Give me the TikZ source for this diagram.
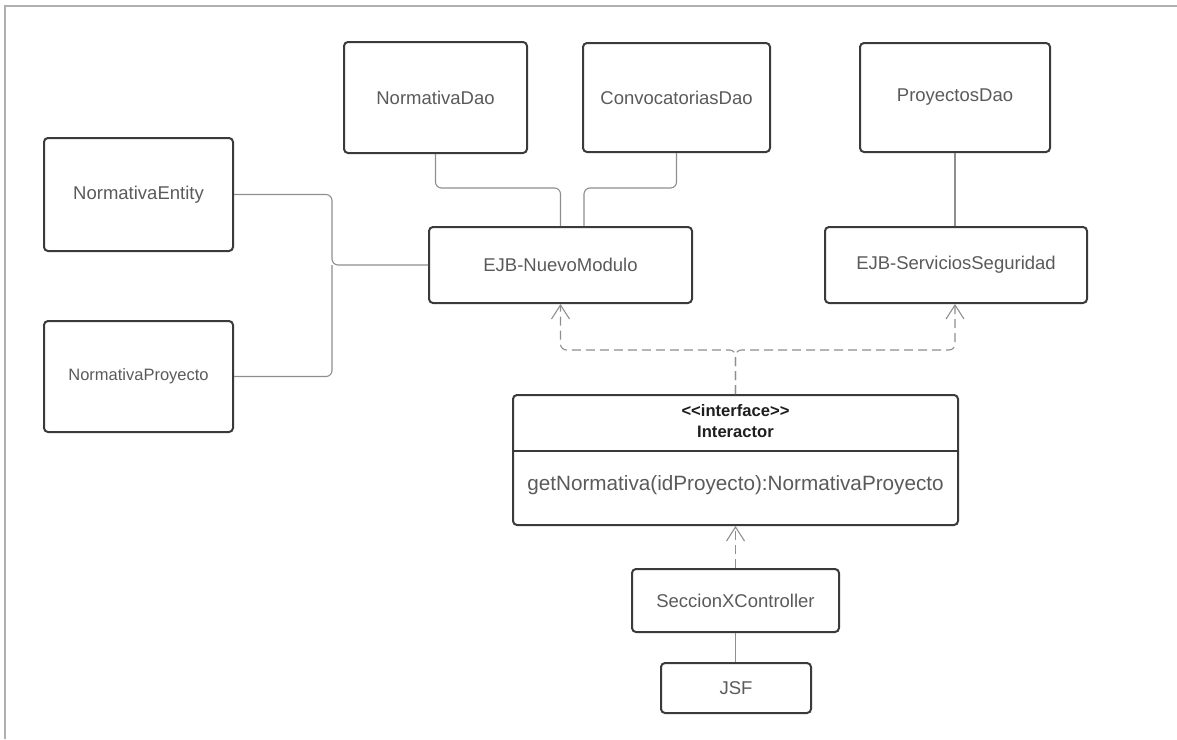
\documentclass[tikz,border=0pt]{standalone}
\usepackage{fontspec}
\setmainfont{Liberation Sans}
\usetikzlibrary{arrows.meta,calc}

\definecolor{boxline}{HTML}{3A3A3A}
\definecolor{wire}{HTML}{8E8E8E}
\definecolor{label}{HTML}{5A5A5A}
\definecolor{frame}{HTML}{B0B0B0}
\definecolor{strong}{HTML}{1E1E1E}

\tikzset{
  umlbox/.style={draw=boxline, line width=1pt, rounded corners=2pt,
    inner sep=0pt, text=label, font=\fontsize{9.25}{11}\selectfont},
  wirelink/.style={draw=wire, line width=0.55pt, rounded corners=3pt},
  deplink/.style={draw=wire, line width=0.55pt, rounded corners=3pt,
    dash pattern=on 4.5pt off 2.5pt,
    -{Straight Barb[length=7pt,width=9pt,line width=0.55pt]}},
  deptrunk/.style={draw=wire, line width=0.55pt, rounded corners=3pt,
    dash pattern=on 4.5pt off 2.5pt},
}

\begin{document}
\begin{tikzpicture}[x=0.5pt,y=-0.5pt]
  \useasboundingbox (0,0) rectangle (1177,739);
  % outer frame (top and left edges)
  \draw[frame, line width=1pt] (5,739) -- (5,5.5) -- (1177,5.5);

  % boxes
  \node[umlbox, minimum width=94.5pt, minimum height=56.5pt] (ne) at (138.5,194.5) {NormativaEntity};
  \node[umlbox, minimum width=94.5pt, minimum height=55.5pt,
        font=\fontsize{8.25}{10}\selectfont] (np) at (138.5,376.5) {NormativaProyecto};
  \node[umlbox, minimum width=91.5pt, minimum height=55.5pt] (nd) at (435.5,97.5) {NormativaDao};
  \node[umlbox, minimum width=93.5pt, minimum height=54.5pt] (cd) at (676.5,97.5) {ConvocatoriasDao};
  \node[umlbox, minimum width=95pt, minimum height=54.5pt] (pd) at (955,97.5) {ProyectosDao};
  \node[umlbox, minimum width=131.5pt, minimum height=38pt] (ejbn) at (560.5,265) {EJB-NuevoModulo};
  \node[umlbox, minimum width=131pt, minimum height=38pt] (ejbs) at (956,265) {EJB-ServiciosSeguridad};
  \node[umlbox, minimum width=222.5pt, minimum height=65pt] (inter) at (735.5,460) {};
  \node[umlbox, minimum width=103.5pt, minimum height=31.5pt] (sec) at (735.5,600.5) {SeccionXController};
  \node[umlbox, minimum width=75pt, minimum height=25pt] (jsf) at (736,688) {JSF};

  % interface compartments
  \coordinate (divy) at (0,451);
  \draw[boxline, line width=1pt] (inter.west |- divy) -- (inter.east |- divy);
  \node[text=strong, font=\bfseries\fontsize{8.3}{10}\selectfont, inner sep=0pt]
    (stereo) at (735.5,411) {<\kern0pt<interface>\kern0pt>};
  \node[text=strong, font=\bfseries\fontsize{8.3}{10}\selectfont, inner sep=0pt]
    (iname) at (735.5,432) {Interactor};
  \node[text=label, font=\fontsize{10.35}{12}\selectfont, inner sep=0pt]
    (meth) at (735.5,485) {getNormativa(idProyecto):NormativaProyecto};

  % DAO links into EJB-NuevoModulo
  \coordinate (daoy) at (0,188);
  \draw[wirelink] (nd.south) -- (nd.south |- daoy) -- (ejbn.north |- daoy) -- (ejbn.north);
  \coordinate (cdin) at ($(ejbn.north)+(23.5,0)$);
  \draw[wirelink] (cd.south) -- (cd.south |- daoy) -- (cdin |- daoy) -- (cdin);
  \draw[wirelink] (pd.south) -- (pd.south |- ejbs.north);

  % entity links
  \coordinate (jl) at (332,265);
  \draw[wirelink] (ne.east) -- (ne.east -| jl) -- (jl) -- (ejbn.west);
  \draw[wirelink] (np.east) -- (np.east -| jl) -- (jl);

  % dependencies of the interactor
  \coordinate (depy) at (0,350);
  \draw[deplink] (inter.north) -- (inter.north |- depy) -- (ejbn.south |- depy) -- (ejbn.south);
  \draw[deplink] (inter.north) -- (inter.north |- depy) -- ($(ejbs.south |- depy)+(-1,0)$) -- ($(ejbs.south)+(-1,0)$);
  \draw[deplink] (sec.north) -- (inter.south);

  % controller to JSF
  \draw[wirelink] (sec.south) -- (sec.south |- jsf.north);
\end{tikzpicture}
\end{document}
